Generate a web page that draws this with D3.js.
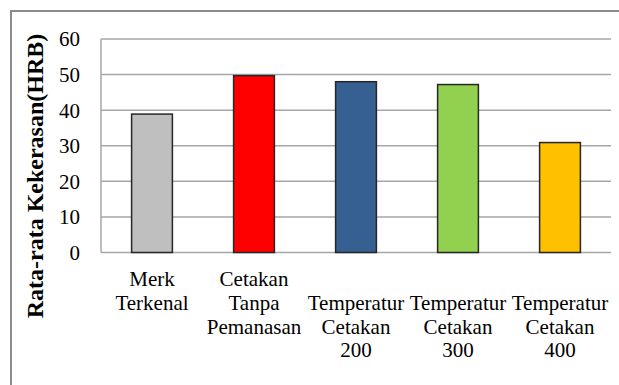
<!DOCTYPE html>
<html>
<head>
<meta charset="utf-8">
<script src="https://cdn.jsdelivr.net/npm/d3@7"></script>
<style>
  body { margin: 0; background: #fff; }
</style>
</head>
<body>
<div id="chart"></div>
<script>
// Data
const categories = [
    ["Merk", "Terkenal"],
    ["Cetakan", "Tanpa", "Pemanasan"],
    ["", "Temperatur", "Cetakan", "200"],
    ["", "Temperatur", "Cetakan", "300"],
    ["", "Temperatur", "Cetakan", "400"]
]
const values = [38.9, 49.7, 48.0, 47.2, 30.9]
const barColors = ["#BFBFBF", "#FF0000", "#376092", "#92D050", "#FFC000"]
const yTicks = [0, 10, 20, 30, 40, 50, 60]
const yTitle = "Rata-rata Kekerasan(HRB)"

const serif = "'Liberation Serif', 'Times New Roman', 'DejaVu Serif', serif"

function drawChart()
{
    const width = 619
    const height = 385
    const plot = { left: 101, right: 611, top: 39, bottom: 252.5 }

    const svg = d3.select("#chart").append("svg")
        .attr("width", width)
        .attr("height", height)
        .attr("font-family", serif)

    // outer frame (runs off the right and bottom edge)
    svg.append("rect")
        .attr("x", 11)
        .attr("y", 11)
        .attr("width", width + 20)
        .attr("height", height + 20)
        .attr("fill", "none")
        .attr("stroke", "#8c8c8c")
        .attr("stroke-width", 2)

    const xScale = d3.scaleBand()
        .domain(d3.range(categories.length))
        .range([plot.left, plot.right])
        .padding(0)

    const yScale = d3.scaleLinear()
        .domain([0, 60])
        .range([plot.bottom, plot.top])

    // gridlines
    svg.append("g")
        .selectAll("line")
        .data(yTicks)
        .join("line")
        .attr("x1", plot.left)
        .attr("x2", plot.right)
        .attr("y1", (d) => yScale(d))
        .attr("y2", (d) => yScale(d))
        .attr("stroke", "#a6a6a6")
        .attr("stroke-width", 1.5)

    // left axis line
    svg.append("line")
        .attr("x1", plot.left)
        .attr("x2", plot.left)
        .attr("y1", yScale(60))
        .attr("y2", yScale(0))
        .attr("stroke", "#a6a6a6")
        .attr("stroke-width", 1.5)

    // tick labels
    svg.append("g")
        .selectAll("text")
        .data(yTicks)
        .join("text")
        .attr("x", 80)
        .attr("y", (d) => yScale(d))
        .attr("dy", "0.35em")
        .attr("text-anchor", "end")
        .attr("font-family", serif)
        .attr("font-size", 21)
        .text((d) => d)

    // bars, gap width 150%
    const barWidth = xScale.bandwidth() / 2.5
    svg.append("g")
        .selectAll("rect")
        .data(values)
        .join("rect")
        .attr("x", (d, i) => xScale(i) + xScale.bandwidth() / 2 - barWidth / 2)
        .attr("y", (d) => yScale(d))
        .attr("width", barWidth)
        .attr("height", (d) => yScale(0) - yScale(d))
        .attr("fill", (d, i) => barColors[i])
        .attr("stroke", "#262626")
        .attr("stroke-width", 1.5)

    // category labels
    const labels = svg.append("g")
        .selectAll("text")
        .data(categories)
        .join("text")
        .attr("text-anchor", "middle")
        .attr("font-family", serif)
        .attr("font-size", 21)

    labels.selectAll("tspan")
        .data((d, i) => d.map((line) => ({ line: line, i: i })))
        .join("tspan")
        .attr("x", (d) => xScale(d.i) + xScale.bandwidth() / 2)
        .attr("y", (d, j) => 286 + j * 23.8)
        .text((d) => d.line)

    // y axis title
    svg.append("text")
        .attr("transform", "translate(43, 176) rotate(-90)")
        .attr("text-anchor", "middle")
        .attr("font-family", serif)
        .attr("font-size", 24)
        .attr("font-weight", "bold")
        .text(yTitle)
}

drawChart()
</script>
</body>
</html>
